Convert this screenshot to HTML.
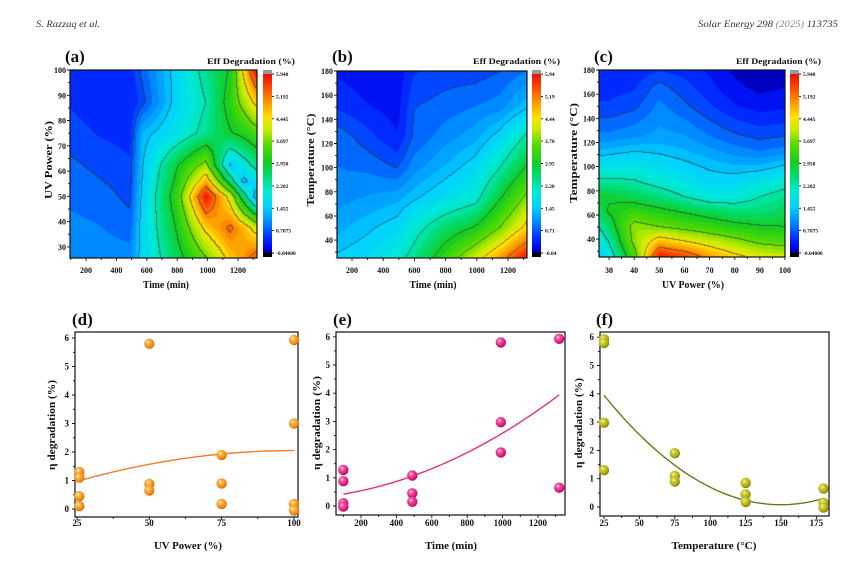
<!DOCTYPE html>
<html><head><meta charset="utf-8">
<style>
html,body{margin:0;padding:0;background:#fff;}
#wrap{position:relative;width:865px;height:562px;overflow:hidden;background:#fff;}
canvas{position:absolute;display:block;}
svg{position:absolute;left:0;top:0;}
text{font-family:"Liberation Serif",serif;font-weight:bold;fill:#111;}
.tk{font-size:8px;}
.tb{font-size:9px;}
.cb{font-size:5.5px;}
.ax{font-size:10.5px;}
.pl{font-size:17px;}
.hd{font-weight:normal;font-style:italic;font-size:9px;fill:#333;}
</style></head>
<body><div id="wrap">
<canvas id="ca" width="187" height="188" style="left:70px;top:70px;width:187px;height:188px"></canvas>
<canvas id="cb" width="190" height="187" style="left:337px;top:71px;width:190px;height:187px"></canvas>
<canvas id="cc" width="186" height="187" style="left:599px;top:70px;width:186px;height:187px"></canvas>
<svg width="865" height="562" viewBox="0 0 865 562">
<defs>
<linearGradient id="cbg" x1="0" y1="0" x2="0" y2="1">
<stop offset="0" stop-color="rgb(225,20,10)"/>
<stop offset="0.0736" stop-color="rgb(255,70,0)"/>
<stop offset="0.1572" stop-color="rgb(255,150,0)"/>
<stop offset="0.2408" stop-color="rgb(255,225,0)"/>
<stop offset="0.3077" stop-color="rgb(200,235,0)"/>
<stop offset="0.3913" stop-color="rgb(90,220,0)"/>
<stop offset="0.4916" stop-color="rgb(20,205,30)"/>
<stop offset="0.5753" stop-color="rgb(0,220,120)"/>
<stop offset="0.6589" stop-color="rgb(0,235,215)"/>
<stop offset="0.7425" stop-color="rgb(0,210,255)"/>
<stop offset="0.8261" stop-color="rgb(0,140,255)"/>
<stop offset="0.9097" stop-color="rgb(0,50,255)"/>
<stop offset="0.9766" stop-color="rgb(0,0,235)"/>
<stop offset="1" stop-color="rgb(0,0,110)"/>
</linearGradient>
<radialGradient id="go" cx="0.38" cy="0.35" r="0.7">
<stop offset="0" stop-color="#fff4d8"/><stop offset="0.3" stop-color="#ffb040"/><stop offset="0.75" stop-color="#f08810"/><stop offset="1" stop-color="#c06000"/>
</radialGradient>
<radialGradient id="gm" cx="0.38" cy="0.35" r="0.7">
<stop offset="0" stop-color="#ffd8ec"/><stop offset="0.3" stop-color="#f050a0"/><stop offset="0.75" stop-color="#e01478"/><stop offset="1" stop-color="#a00050"/>
</radialGradient>
<radialGradient id="gl" cx="0.38" cy="0.35" r="0.7">
<stop offset="0" stop-color="#f6f6b0"/><stop offset="0.3" stop-color="#cccc30"/><stop offset="0.75" stop-color="#a4a410"/><stop offset="1" stop-color="#6c6c08"/>
</radialGradient>
</defs>

<!-- header -->
<text class="hd" x="36" y="27" textLength="64" lengthAdjust="spacingAndGlyphs">S. Razzaq et al.</text>
<text class="hd" x="698" y="27" textLength="140" lengthAdjust="spacingAndGlyphs">Solar Energy 298 <tspan style="fill:#888">(2025)</tspan> 113735</text>

<!-- colorbars -->
<g>
<rect x="263" y="70" width="9" height="4" fill="#999"/><rect x="263" y="74" width="9" height="179" fill="url(#cbg)"/><rect x="263" y="253" width="9" height="4" fill="#000"/>
<rect x="532" y="70" width="9" height="4" fill="#999"/><rect x="532" y="74" width="9" height="179" fill="url(#cbg)"/><rect x="532" y="253" width="9" height="4" fill="#000"/>
<rect x="790" y="70" width="9" height="4" fill="#999"/><rect x="790" y="74" width="9" height="179" fill="url(#cbg)"/><rect x="790" y="253" width="9" height="4" fill="#000"/>
</g>

<!-- frames -->
<g fill="none" stroke="#111" stroke-width="1.2">
<rect x="70" y="70" width="187" height="188"/>
<rect x="337" y="71" width="190" height="187"/>
<rect x="599" y="70" width="186" height="187"/>
<rect x="75" y="332" width="223" height="185"/>
<rect x="336" y="332" width="229" height="183"/>
<rect x="600" y="332" width="229" height="184"/>
</g>
<path id="tk" fill="none" stroke="#111" stroke-width="0.9" d=""/>

<!-- panel labels -->
<text class="pl" x="65" y="62">(a)</text>
<text class="pl" x="332" y="62">(b)</text>
<text class="pl" x="594" y="62">(c)</text>
<text class="pl" x="72" y="325">(d)</text>
<text class="pl" x="333" y="325">(e)</text>
<text class="pl" x="596" y="325">(f)</text>

<!-- colorbar titles -->
<text x="207" y="64" style="font-size:8px" textLength="88" lengthAdjust="spacingAndGlyphs">Eff Degradation (%)</text>
<text x="473" y="64" style="font-size:8px" textLength="87" lengthAdjust="spacingAndGlyphs">Eff Degradation (%)</text>
<text x="736" y="64" style="font-size:8px" textLength="85" lengthAdjust="spacingAndGlyphs">Eff Degradation (%)</text>

<!-- colorbar labels -->
<g class="cb">
<text x="276" y="76">5.940</text><text x="276" y="98.4">5.192</text><text x="276" y="120.8">4.445</text><text x="276" y="143.1">3.697</text><text x="276" y="165.5">2.950</text><text x="276" y="187.9">2.202</text><text x="276" y="210.3">1.455</text><text x="276" y="232.6">0.7075</text><text x="276" y="255">-0.04000</text>
<text x="545" y="76">5.94</text><text x="545" y="98.4">5.19</text><text x="545" y="120.8">4.44</text><text x="545" y="143.1">3.70</text><text x="545" y="165.5">2.95</text><text x="545" y="187.9">2.20</text><text x="545" y="210.3">1.45</text><text x="545" y="232.6">0.71</text><text x="545" y="255">-0.04</text>
<text x="803" y="76">5.940</text><text x="803" y="98.4">5.192</text><text x="803" y="120.8">4.445</text><text x="803" y="143.1">3.697</text><text x="803" y="165.5">2.950</text><text x="803" y="187.9">2.202</text><text x="803" y="210.3">1.455</text><text x="803" y="232.6">0.7075</text><text x="803" y="255">-0.04000</text>
</g>

<!-- top tick labels -->
<g class="tk" text-anchor="middle">
<text x="86" y="273">200</text><text x="116.4" y="273">400</text><text x="146.8" y="273">600</text><text x="177.2" y="273">800</text><text x="207.6" y="273">1000</text><text x="238" y="273">1200</text>
<text x="352" y="273">200</text><text x="383.2" y="273">400</text><text x="414.4" y="273">600</text><text x="445.6" y="273">800</text><text x="476.8" y="273">1000</text><text x="508" y="273">1200</text>
<text x="609" y="273">30</text><text x="634.1" y="273">40</text><text x="659.3" y="273">50</text><text x="684.5" y="273">60</text><text x="709.6" y="273">70</text><text x="734.8" y="273">80</text><text x="759.9" y="273">90</text><text x="785" y="273">100</text>
</g>
<g class="tk" text-anchor="end">
<text x="66" y="73">100</text><text x="66" y="98.3">90</text><text x="66" y="123.5">80</text><text x="66" y="148.8">70</text><text x="66" y="174.1">60</text><text x="66" y="199.3">50</text><text x="66" y="224.6">40</text><text x="66" y="249.9">30</text>
<text x="333" y="74">180</text><text x="333" y="98">160</text><text x="333" y="122.3">140</text><text x="333" y="146.5">120</text><text x="333" y="170.6">100</text><text x="333" y="194.8">80</text><text x="333" y="219">60</text><text x="333" y="243.1">40</text>
<text x="595" y="73">180</text><text x="595" y="97">160</text><text x="595" y="121.3">140</text><text x="595" y="145.5">120</text><text x="595" y="169.6">100</text><text x="595" y="193.8">80</text><text x="595" y="218">60</text><text x="595" y="242.1">40</text>
</g>

<!-- top axis titles -->
<text class="ax" x="166" y="288" text-anchor="middle" textLength="46" lengthAdjust="spacingAndGlyphs">Time (min)</text>
<text class="ax" x="433" y="288" text-anchor="middle" textLength="47" lengthAdjust="spacingAndGlyphs">Time (min)</text>
<text class="ax" x="693" y="288" text-anchor="middle" textLength="62" lengthAdjust="spacingAndGlyphs">UV Power (%)</text>
<text class="ax" transform="translate(52,160) rotate(-90)" text-anchor="middle" textLength="78" lengthAdjust="spacingAndGlyphs">UV Power (%)</text>
<text class="ax" transform="translate(314,160) rotate(-90)" text-anchor="middle" textLength="93" lengthAdjust="spacingAndGlyphs">Temperature (°C)</text>
<text class="ax" transform="translate(577,153) rotate(-90)" text-anchor="middle" textLength="100" lengthAdjust="spacingAndGlyphs">Temperature (°C)</text>

<!-- bottom tick labels -->
<g class="tb" text-anchor="middle">
<text x="77" y="526">25</text><text x="149.3" y="526">50</text><text x="221.6" y="526">75</text><text x="294" y="526">100</text>
<text x="361" y="526">200</text><text x="396.4" y="526">400</text><text x="431.8" y="526">600</text><text x="467.2" y="526">800</text><text x="502.6" y="526">1000</text><text x="538" y="526">1200</text>
<text x="604" y="526">25</text><text x="639.4" y="526">50</text><text x="674.8" y="526">75</text><text x="710.2" y="526">100</text><text x="745.6" y="526">125</text><text x="781" y="526">150</text><text x="816.4" y="526">175</text>
</g>
<g class="tb" text-anchor="end">
<text x="69" y="341">6</text><text x="69" y="369.5">5</text><text x="69" y="398">4</text><text x="69" y="426.5">3</text><text x="69" y="455">2</text><text x="69" y="483.5">1</text><text x="69" y="512">0</text>
<text x="330" y="339.8">6</text><text x="330" y="368">5</text><text x="330" y="396.2">4</text><text x="330" y="424.4">3</text><text x="330" y="452.6">2</text><text x="330" y="480.8">1</text><text x="330" y="509">0</text>
<text x="594" y="340.2">6</text><text x="594" y="368.5">5</text><text x="594" y="396.8">4</text><text x="594" y="425.1">3</text><text x="594" y="453.4">2</text><text x="594" y="481.7">1</text><text x="594" y="510">0</text>
</g>

<!-- bottom axis titles -->
<text class="ax" x="188" y="549" text-anchor="middle" textLength="68" lengthAdjust="spacingAndGlyphs">UV Power (%)</text>
<text class="ax" x="451" y="549" text-anchor="middle" textLength="52" lengthAdjust="spacingAndGlyphs">Time (min)</text>
<text class="ax" x="714" y="549" text-anchor="middle" textLength="85" lengthAdjust="spacingAndGlyphs">Temperature (°C)</text>
<text class="ax" transform="translate(55,425) rotate(-90)" text-anchor="middle" textLength="90" lengthAdjust="spacingAndGlyphs">η degradation (%)</text>
<text class="ax" transform="translate(320,423) rotate(-90)" text-anchor="middle" textLength="94" lengthAdjust="spacingAndGlyphs">η degradation (%)</text>
<text class="ax" transform="translate(582,423) rotate(-90)" text-anchor="middle" textLength="90" lengthAdjust="spacingAndGlyphs">η degradation (%)</text>

<!-- curves -->
<polyline id="cvd" fill="none" stroke="#f07a30" stroke-width="1.4" points=""/>
<polyline id="cve" fill="none" stroke="#e8307a" stroke-width="1.4" points=""/>
<polyline id="cvf" fill="none" stroke="#6a7a1a" stroke-width="1.4" points=""/>

<!-- scatter points -->
<g id="pts"></g>
</svg>
</div>
<script>
(function(){
var stops=[[-0.04,0,0,110],[0.1,0,0,235],[0.5,0,50,255],[1.0,0,140,255],[1.5,0,210,255],[2.0,0,235,215],[2.5,0,220,120],[3.0,20,205,30],[3.6,90,220,0],[4.1,200,235,0],[4.5,255,225,0],[5.0,255,150,0],[5.5,255,70,0],[5.94,225,20,10]];
function col(v){
  if(v<=stops[0][0])return [stops[0][1],stops[0][2],stops[0][3]];
  for(var i=0;i<stops.length-1;i++){
    if(v<=stops[i+1][0]){var a=stops[i],b=stops[i+1],t=(v-a[0])/(b[0]-a[0]);
      return [a[1]+(b[1]-a[1])*t,a[2]+(b[2]-a[2])*t,a[3]+(b[3]-a[3])*t];}
  }
  var l=stops[stops.length-1];return [l[1],l[2],l[3]];
}
function bil(xs,ys,g,x,y){
  x=Math.max(xs[0],Math.min(xs[xs.length-1],x));
  y=Math.max(ys[0],Math.min(ys[ys.length-1],y));
  var i=0;while(i<xs.length-2&&x>xs[i+1])i++;
  var j=0;while(j<ys.length-2&&y>ys[j+1])j++;
  var tx=(x-xs[i])/(xs[i+1]-xs[i]),ty=(y-ys[j])/(ys[j+1]-ys[j]);
  return g[j][i]*(1-tx)*(1-ty)+g[j][i+1]*tx*(1-ty)+g[j+1][i]*(1-tx)*ty+g[j+1][i+1]*tx*ty;
}
function draw(id,xs,ys,g,xr,yr){
  var c=document.getElementById(id),w=c.width,h=c.height,ctx=c.getContext('2d');
  var im=ctx.createImageData(w,h),V=new Float32Array(w*h),px,py,k;
  for(py=0;py<h;py++)for(px=0;px<w;px++){
    var x=xr[0]+(px+0.5)/w*(xr[1]-xr[0]);
    var y=yr[1]-(py+0.5)/h*(yr[1]-yr[0]);
    V[py*w+px]=bil(xs,ys,g,x,y);
  }
  var LS=0.7475,FS=0.1869;
  function L(v){return Math.floor((v+0.04)/LS);}
  for(py=0;py<h;py++)for(px=0;px<w;px++){
    k=py*w+px;var v=V[k];
    var q=Math.floor((v+0.04)/FS)*FS-0.04+FS/2;
    var cc=col(q);var l=L(v);
    var line=(px<w-1&&L(V[k+1])!=l)||(py<h-1&&L(V[k+w])!=l);
    if(line){cc=[cc[0]*0.45+25,cc[1]*0.45+25,cc[2]*0.45+25];}
    im.data[k*4]=cc[0];im.data[k*4+1]=cc[1];im.data[k*4+2]=cc[2];im.data[k*4+3]=255;
  }
  ctx.putImageData(im,0,0);
}
// (a) Time vs UV power
draw('ca',[100,300,490,570,800,990,1150,1235,1320],[25,37.5,50,56,62.5,75,87.5,100],[
 [1.05,1.0,1.0,1.6,2.7,3.6,4.6,5.0,5.5],
 [0.95,0.9,0.8,1.6,3.0,4.6,5.3,4.8,4.2],
 [0.85,0.8,0.65,1.5,3.3,5.9,4.2,2.6,1.2],
 [0.8,0.72,0.6,1.45,3.1,4.9,2.6,1.3,1.7],
 [0.75,0.65,0.55,1.4,2.9,3.9,1.4,1.9,2.4],
 [0.6,0.5,0.45,1.3,1.8,2.4,2.9,3.1,3.4],
 [0.5,0.4,0.35,0.6,1.6,2.2,3.2,3.9,4.6],
 [0.35,0.35,0.4,0.75,1.6,2.4,3.0,4.5,5.9]],[95,1325],[25.6,100.4]);
// (b) Time vs Temperature
draw('cb',[100,300,490,600,800,990,1150,1320],[25,50,75,100,125,150,180],[
 [1.5,1.65,2.0,2.4,3.3,4.2,5.0,5.9],
 [1.2,1.4,1.6,2.0,2.6,3.0,3.7,4.6],
 [1.0,1.1,1.2,1.4,1.7,2.0,2.9,3.8],
 [0.9,0.85,0.7,1.0,1.3,1.6,2.2,3.0],
 [0.85,0.6,0.35,0.75,1.0,1.2,1.6,2.3],
 [0.5,0.35,0.25,0.7,0.8,0.9,1.0,1.4],
 [0.3,0.2,0.2,0.5,0.6,0.6,0.7,0.9]],[104,1322],[25.2,180]);
// (c) UV power vs Temperature
draw('cc',[26,30,40,50,60,70,80,90,100],[25,37.5,50,62.5,75,87.5,100,112.5,125,150,165,180],[
 [1.4,1.8,3.4,5.9,5.6,5.0,4.6,4.3,4.2],
 [1.8,2.2,3.8,4.8,4.5,4.2,3.9,3.6,3.5],
 [2.2,2.6,3.9,3.7,3.5,3.3,3.1,3.0,2.95],
 [2.6,3.0,3.3,3.1,2.9,2.7,2.55,2.5,2.7],
 [2.9,2.9,2.7,2.5,2.2,1.9,1.9,2.2,2.4],
 [2.3,2.3,2.25,2.0,1.8,1.6,1.6,1.8,2.0],
 [1.8,1.8,1.85,1.7,1.55,1.4,1.3,1.3,1.5],
 [1.3,1.35,1.45,1.4,1.3,1.15,1.0,0.9,1.0],
 [0.95,0.95,1.05,1.15,1.1,0.9,0.75,0.65,0.7],
 [0.55,0.55,0.65,0.95,0.75,0.55,0.35,0.25,0.3],
 [0.45,0.45,0.5,0.8,0.6,0.4,0.2,0.1,0.15],
 [0.35,0.35,0.4,0.5,0.45,0.3,0.1,0.05,0.1]],[26,100],[25.2,180]);

// ticks
var d='';
function rng(a,b,s){var r=[];for(var v=a;v<=b+1e-9;v+=s)r.push(v);return r;}
function tx(vals,f,y,len){vals.forEach(function(v){var x=f(v);d+='M'+x.toFixed(1)+','+y+'v'+len;});}
function ty(vals,f,x,len){vals.forEach(function(v){var y=f(v);d+='M'+x+','+y.toFixed(1)+'h'+(-len);});}
// a
var fa=function(t){return 70+(t-95)*0.15203;}, ga=function(u){return 258-(u-25.6)*2.527;};
tx(rng(200,1200,200),fa,258,3);tx(rng(100,1300,200),fa,258,2);
ty(rng(30,100,10),ga,70,3);ty(rng(35,95,10),ga,70,2);
// b
var fb=function(t){return 337+(t-104)*0.156;}, gb=function(T){return 258-(T-25.2)*1.208;};
tx(rng(200,1200,200),fb,258,3);tx(rng(300,1300,200),fb,258,2);
ty(rng(40,180,20),gb,337,3);ty(rng(30,170,20),gb,337,2);
// c
var fc=function(u){return 599+(u-26)*2.514;}, gc=function(T){return 257-(T-25.2)*1.208;};
tx(rng(30,100,10),fc,257,3);tx(rng(35,95,10),fc,257,2);
ty(rng(40,180,20),gc,599,3);ty(rng(30,170,20),gc,599,2);
// d
var fd=function(u){return 77+(u-25)*2.893;}, gd=function(v){return 509-v*28.5;};
tx([25,50,75,100],fd,517,3);tx([37.5,62.5,87.5],fd,517,2);
ty(rng(0,6,1),gd,75,3);ty(rng(0.5,5.5,1),gd,75,2);
// e
var fe=function(t){return 361+(t-200)*0.177;}, ge=function(v){return 506-v*28.2;};
tx(rng(200,1200,200),fe,515,3);tx(rng(100,1300,200),fe,515,2);
ty(rng(0,6,1),ge,336,3);ty(rng(0.5,5.5,1),ge,336,2);
// f
var ff=function(T){return 604+(T-25)*1.416;}, gf=function(v){return 507-v*28.3;};
tx(rng(25,175,25),ff,516,3);tx(rng(37.5,162.5,25),ff,516,2);
ty(rng(0,6,1),gf,600,3);ty(rng(0.5,5.5,1),gf,600,2);
// colorbar ticks
[272,541,799].forEach(function(x){for(var k=0;k<9;k++){var y=74+k*22.375;d+='M'+x+','+y.toFixed(1)+'h2';}});
document.getElementById('tk').setAttribute('d',d);

// curves
function curve(id,a,b,n,fx,fy,fv){var p=[];for(var i=0;i<=n;i++){var x=a+(b-a)*i/n;p.push(fx(x).toFixed(1)+','+fy(fv(x)).toFixed(1));}document.getElementById(id).setAttribute('points',p.join(' '));}
curve('cvd',25.5,100,60,fd,gd,function(u){return 2.05-0.000192*(u-100)*(u-100);});
curve('cve',100,1320,80,fe,ge,function(t){return 0.3293+0.000757*t+1.499e-6*t*t;});
curve('cvf',25,180,80,ff,gf,function(T){return 0.08+0.0002477*(T-150)*(T-150);});

// points
var ns='http://www.w3.org/2000/svg',G=document.getElementById('pts');
function pt(x,y,fill){var c=document.createElementNS(ns,'circle');c.setAttribute('cx',x.toFixed(1));c.setAttribute('cy',y.toFixed(1));c.setAttribute('r','5.2');c.setAttribute('fill',fill);G.appendChild(c);}
[[25.8,1.3],[25.8,1.1],[25.8,0.45],[25.8,0.1],[50,5.8],[50,0.88],[50,0.65],[75,1.9],[75,0.9],[75,0.18],[100,5.93],[100,3.0],[100,0.18],[100,-0.05]].forEach(function(p){pt(fd(p[0]),gd(p[1]),'url(#go)');});
[[100,1.28],[100,0.88],[100,0.1],[100,-0.02],[490,1.08],[490,0.45],[490,0.15],[990,5.8],[990,2.97],[990,1.9],[1320,5.93],[1320,0.65]].forEach(function(p){pt(fe(p[0]),ge(p[1]),'url(#gm)');});
[[25,5.93],[25,5.8],[25,2.98],[25,1.3],[75,1.9],[75,1.1],[75,0.9],[125,0.85],[125,0.45],[125,0.18],[180,0.65],[180,0.15],[180,-0.02]].forEach(function(p){pt(ff(p[0]),gf(p[1]),'url(#gl)');});
})();
</script>
</body></html>
